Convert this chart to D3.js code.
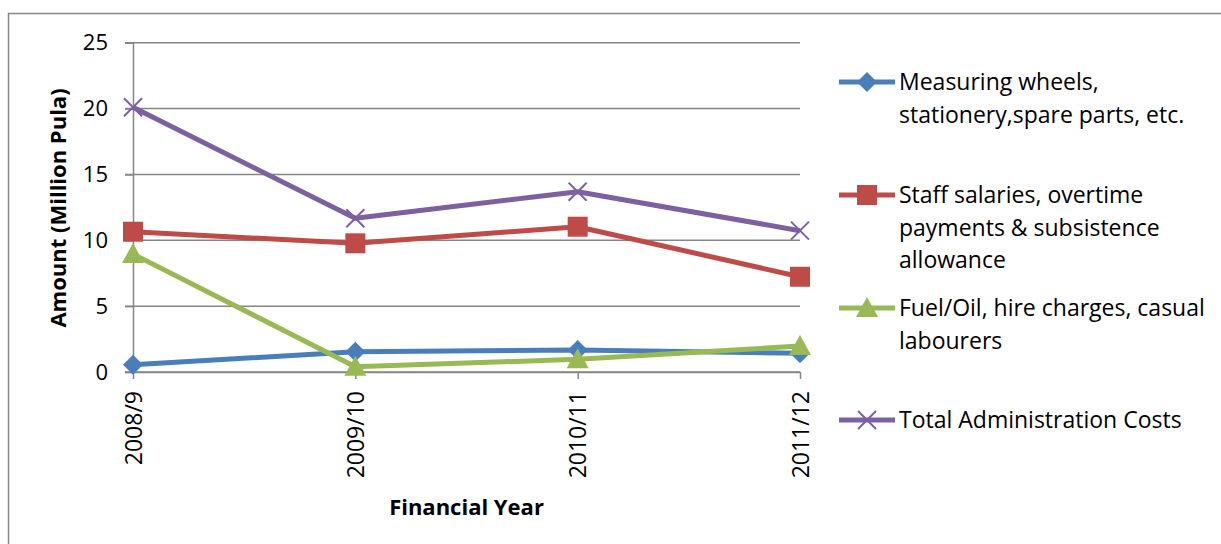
<!DOCTYPE html>
<html>
<head>
<meta charset="utf-8">
<script src="https://cdn.jsdelivr.net/npm/d3@7"></script>
<style>
html,body{margin:0;padding:0;background:#fff;}
svg{display:block;}
text{font-family:"Open Sans",sans-serif;fill:#000;}
</style>
</head>
<body>
<svg id="chart" width="1221" height="544"></svg>
<script>
const categories = ["2008/9", "2009/10", "2010/11", "2011/12"];
const yTicks = [0, 5, 10, 15, 20, 25];
const measuring = [0.55, 1.54, 1.67, 1.42];
const staff = [10.65, 9.77, 11.03, 7.23];
const fuel = [8.95, 0.4, 0.96, 1.97];
const total = [20.1, 11.67, 13.69, 10.73];
const seriesNames = [
  ["Measuring wheels,", "stationery,spare parts, etc."],
  ["Staff salaries, overtime", "payments & subsistence", "allowance"],
  ["Fuel/Oil, hire charges, casual", "labourers"],
  ["Total Administration Costs"]
];
const seriesValues = [measuring, staff, fuel, total];
const seriesColors = ["#4A7EBB", "#BE4B48", "#98B954", "#7D60A0"];
const seriesMarkers = ["diamond", "square", "triangle", "x"];
const FONT = "'Open Sans',sans-serif";

const svg = d3.select("#chart");
svg.append("rect").attr("x", 8.5).attr("y", 13.5).attr("width", 1400).attr("height", 700)
  .attr("fill", "none").attr("stroke", "#868686").attr("stroke-width", 1.5);

const x = d3.scalePoint().domain(categories).range([133, 800]).padding(0);
const y = d3.scaleLinear().domain([0, 25]).range([372, 42.7]);

svg.append("g").selectAll("line").data(yTicks).join("line")
  .attr("x1", 125).attr("x2", 800)
  .attr("y1", d => y(d)).attr("y2", d => y(d))
  .attr("stroke", "#868686").attr("stroke-width", 1.5);

const yAxis = svg.append("g").attr("transform", "translate(133,0)")
  .call(d3.axisLeft(y).tickValues(yTicks).tickSize(8).tickPadding(17));
yAxis.select(".domain").attr("stroke", "#868686").attr("stroke-width", 1.5);
yAxis.selectAll(".tick line").attr("stroke", "#868686").attr("stroke-width", 1.5);
yAxis.selectAll("text").style("font-family", FONT).attr("font-size", 22).attr("fill", "#000");

const xAxis = svg.append("g").attr("transform", "translate(0,372)")
  .call(d3.axisBottom(x).tickSize(7).tickSizeOuter(0));
xAxis.select(".domain").attr("stroke", "#868686").attr("stroke-width", 1.5);
xAxis.selectAll(".tick line").attr("stroke", "#868686").attr("stroke-width", 1.5);
xAxis.selectAll("text")
  .style("font-family", FONT).attr("font-size", 23).attr("fill", "#000")
  .attr("text-anchor", "end").attr("dy", "0.35em")
  .attr("transform", "translate(0,19) rotate(-90)").attr("x", 0).attr("y", 0);

svg.append("text").attr("transform", "translate(66,208) rotate(-90)")
  .attr("text-anchor", "middle").attr("font-size", 22).attr("font-weight", "bold")
  .text("Amount (Million Pula)");
svg.append("text").attr("x", 466.5).attr("y", 515)
  .attr("text-anchor", "middle").attr("font-size", 22).attr("font-weight", "bold")
  .text("Financial Year");

function markerPath(type) {
  if (type === "diamond") return "M0,-10L10,0L0,10L-10,0Z";
  if (type === "square") return "M-10,-10H10V10H-10Z";
  if (type === "triangle") return "M0,-11L11,9H-11Z";
  return "M-9,-9L9,9M-9,9L9,-9";
}
function drawMarker(g, type, color) {
  const p = g.append("path").attr("d", markerPath(type));
  if (type === "x") p.attr("fill", "none").attr("stroke", color).attr("stroke-width", 2);
  else p.attr("fill", color);
}

const line = d3.line().x((d, i) => x(categories[i])).y(d => y(d));
seriesValues.forEach((vals, s) => {
  const g = svg.append("g");
  g.append("path").datum(vals).attr("d", line).attr("fill", "none")
    .attr("stroke", seriesColors[s]).attr("stroke-width", 5).attr("stroke-linejoin", "round");
  vals.forEach((v, i) => {
    const mg = g.append("g").attr("transform", `translate(${x(categories[i])},${y(v)})`);
    drawMarker(mg, seriesMarkers[s], seriesColors[s]);
  });
});

const legendTop = [82, 195, 308, 420];
seriesNames.forEach((lines, s) => {
  const g = svg.append("g").attr("transform", `translate(0,${legendTop[s]})`);
  g.append("line").attr("x1", 839).attr("x2", 895).attr("y1", 0).attr("y2", 0)
    .attr("stroke", seriesColors[s]).attr("stroke-width", 5);
  const mg = g.append("g").attr("transform", "translate(867,0)");
  drawMarker(mg, seriesMarkers[s], seriesColors[s]);
  lines.forEach((t, k) => {
    g.append("text").attr("x", 899).attr("y", 8 + k * 32.6).attr("font-size", 23).text(t);
  });
});
</script>
</body>
</html>
